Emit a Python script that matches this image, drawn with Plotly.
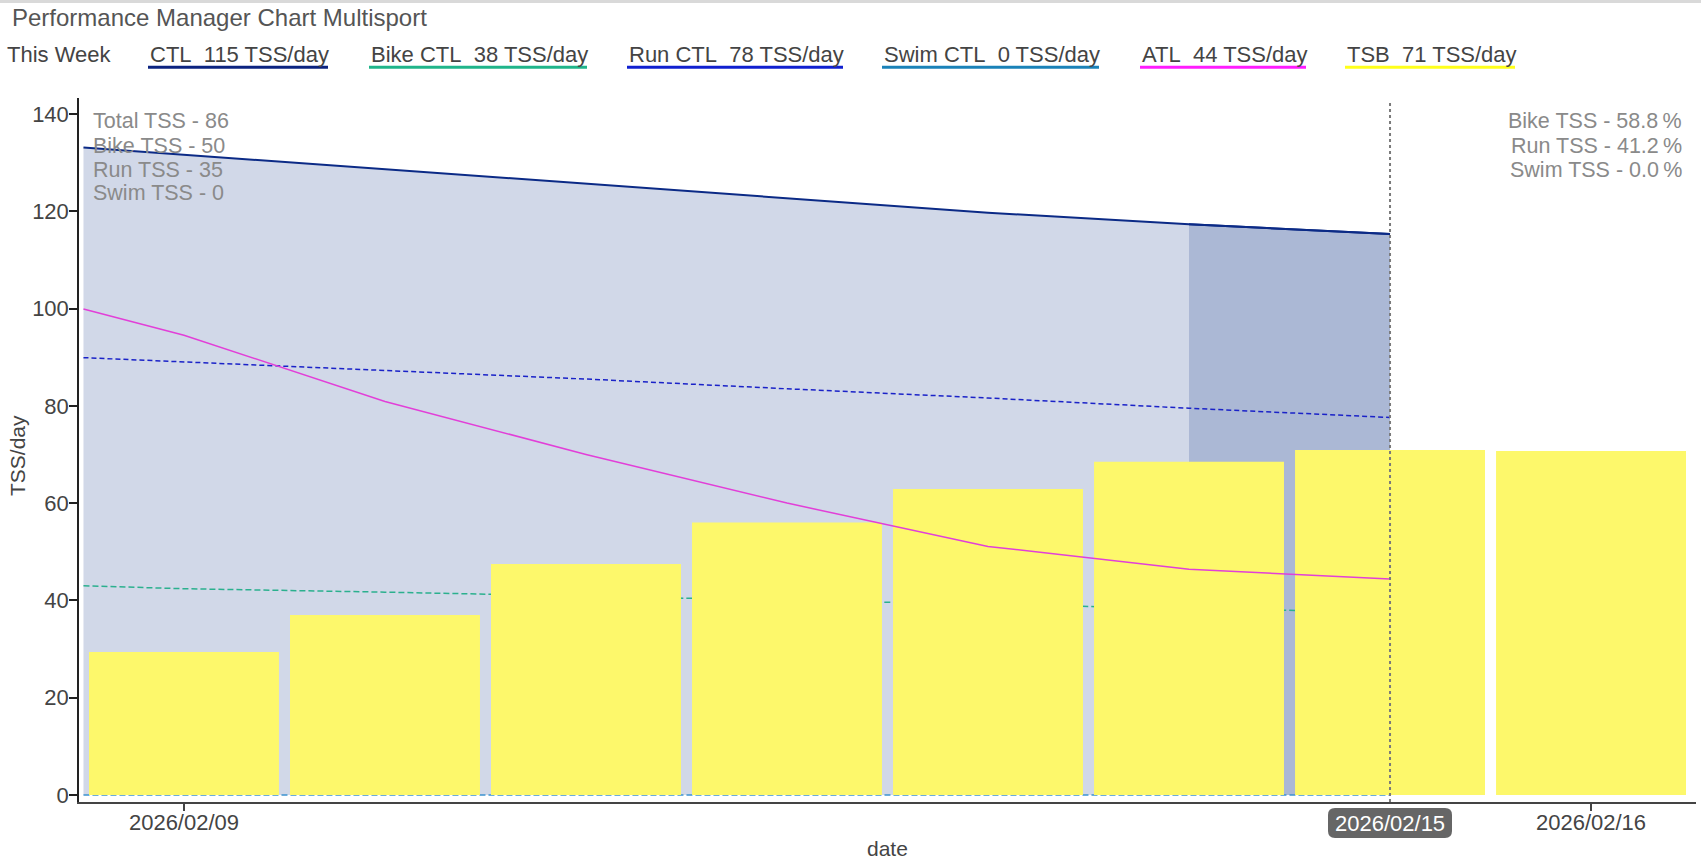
import plotly.graph_objects as go

# ---------------- data ----------------
title_text = "Performance Manager Chart Multisport"

line_dates = ["2026-02-08 12:00", "2026-02-09", "2026-02-10", "2026-02-11",
              "2026-02-12", "2026-02-13", "2026-02-14", "2026-02-15"]
ctl = [133.1, 131.6, 128.7, 125.7, 122.7, 119.7, 117.3, 115.3]
bike_ctl = [43.0, 42.4, 41.7, 40.9, 40.1, 39.2, 38.3, 37.6]
run_ctl = [89.9, 89.0, 87.3, 85.5, 83.5, 81.6, 79.5, 77.6]
swim_ctl = [0, 0, 0, 0, 0, 0, 0, 0]
atl = [99.9, 94.5, 80.9, 70.0, 60.0, 51.1, 46.4, 44.4]

bar_dates = ["2026-02-09", "2026-02-10", "2026-02-11", "2026-02-12",
             "2026-02-13", "2026-02-14", "2026-02-15", "2026-02-16"]
tsb = [29.4, 37.0, 47.5, 56.0, 62.9, 68.5, 70.9, 70.7]

legend_title = "This Week"
legend_labels = ["CTL", "Bike CTL", "Run CTL", "Swim CTL", "ATL", "TSB"]
legend_values = [115, 38, 78, 0, 44, 71]

total_tss = 86
sport_names = ["Bike", "Run", "Swim"]
sport_tss = [50, 35, 0]
sport_pct = [58.8, 41.2, 0.0]

x_tick_vals = ["2026-02-09", "2026-02-16"]
x_tick_text = ["2026/02/09", "2026/02/16"]
hover_date = "2026-02-15"
hover_text = "2026/02/15"
y_tick_vals = [0, 20, 40, 60, 80, 100, 120, 140]

# ---------------- styling / geometry ----------------
FONT = "Liberation Sans, Arial, Helvetica, sans-serif"
W, H = 1701, 860
L, R, T, B = 79, 1696, 98, 802


def px(x):
    return (x - L) / (R - L)


def py(y):
    return (B - y) / (B - T)


c_ctl = "#0b2a86"
c_bike = "#2bb08e"
c_run = "#1a22c8"
c_swim = "#3d93cf"
c_atl = "#e23fd8"
c_tsb = "#fdf86b"
fill_rgba = "rgba(0,40,130,0.18)"
legend_colors = ["#0b2380", "#1fb58a", "#1020d0", "#1a82b8", "#ff1cff", "#ffff1a"]
legend_x = [148, 369, 627, 882, 1140, 1345]
legend_w = [180, 218, 216, 217, 166, 170]

fig = go.Figure()

# CTL filled area (base layer)
fig.add_trace(go.Scatter(x=line_dates, y=ctl, mode="lines", fill="tozeroy",
                         fillcolor=fill_rgba, line=dict(color=c_ctl, width=2),
                         showlegend=False, hoverinfo="skip"))
# last segment highlighted
fig.add_trace(go.Scatter(x=line_dates[-2:], y=ctl[-2:], mode="lines", fill="tozeroy",
                         fillcolor=fill_rgba, line=dict(color=c_ctl, width=2),
                         showlegend=False, hoverinfo="skip"))
fig.add_trace(go.Scatter(x=line_dates, y=bike_ctl, mode="lines",
                         line=dict(color=c_bike, width=1.5, dash="6px,3px"),
                         showlegend=False))
fig.add_trace(go.Scatter(x=line_dates, y=swim_ctl, mode="lines",
                         line=dict(color=c_swim, width=1.5, dash="6px,3px"),
                         showlegend=False))
fig.add_trace(go.Scatter(x=line_dates, y=run_ctl, mode="lines",
                         line=dict(color=c_run, width=1.5, dash="5px,3px"),
                         showlegend=False))

# overlay layer: bars + ATL
fig.add_trace(go.Bar(x=bar_dates, y=tsb, marker=dict(color=c_tsb, line=dict(width=0)),
                     yaxis="y2", showlegend=False))
fig.add_trace(go.Scatter(x=line_dates, y=atl, mode="lines", yaxis="y2",
                         line=dict(color=c_atl, width=1.5), showlegend=False))

y_range = [-1.44, 143.27]
x_range = ["2026-02-08 11:28", "2026-02-16 12:32"]

annotations = []
shapes = []

# legend row
annotations.append(dict(text=legend_title, xref="paper", yref="paper",
                        x=px(5), y=py(54), xanchor="left", yanchor="middle",
                        showarrow=False, font=dict(family=FONT, size=22, color="#444")))
for lab, val, col, lx, lw in zip(legend_labels, legend_values, legend_colors, legend_x, legend_w):
    annotations.append(dict(text=f"{lab}\u00a0 {val} TSS/day", xref="paper", yref="paper",
                            x=px(lx), y=py(54), xanchor="left", yanchor="middle",
                            showarrow=False, font=dict(family=FONT, size=22, color="#444")))
    shapes.append(dict(type="line", xref="paper", yref="paper",
                       x0=px(lx), x1=px(lx + lw), y0=py(67.2), y1=py(67.2),
                       line=dict(color=col, width=3)))

# stats annotations (left)
left_lines = [f"Total TSS - {total_tss}"] + [f"{n} TSS - {v}" for n, v in zip(sport_names, sport_tss)]
for i, t in enumerate(left_lines):
    annotations.append(dict(text=t, xref="paper", yref="paper", x=px(91), y=py(121.5 + 24 * i),
                            xanchor="left", yanchor="middle", showarrow=False,
                            font=dict(family=FONT, size=21.5, color="#8a8a8a")))
# stats annotations (right)
for i, (n, p) in enumerate(zip(sport_names, sport_pct)):
    annotations.append(dict(text=f"{n} TSS - {p:.1f}\u2009%", xref="paper", yref="paper",
                            x=px(1684), y=py(121.5 + 24 * i),
                            xanchor="right", yanchor="middle", align="right", showarrow=False,
                            font=dict(family=FONT, size=21.5, color="#8a8a8a")))

# axis titles
annotations.append(dict(text="TSS/day", xref="paper", yref="paper", x=px(17), y=py(456),
                        textangle=-90, xanchor="center", yanchor="middle", showarrow=False,
                        font=dict(family=FONT, size=21, color="#444")))
annotations.append(dict(text="date", xref="paper", yref="paper", x=0.5, y=py(848),
                        xanchor="center", yanchor="middle", showarrow=False,
                        font=dict(family=FONT, size=21, color="#444")))

# hover-style date label
bx0, bx1, by0, by1, rr = 1328, 1452, 808, 838, 7
rx, ryy = rr / (R - L), rr / (B - T)
path = (f"M {px(bx0)+rx},{py(by0)} L {px(bx1)-rx},{py(by0)} "
        f"Q {px(bx1)},{py(by0)} {px(bx1)},{py(by0)-ryy} "
        f"L {px(bx1)},{py(by1)+ryy} Q {px(bx1)},{py(by1)} {px(bx1)-rx},{py(by1)} "
        f"L {px(bx0)+rx},{py(by1)} Q {px(bx0)},{py(by1)} {px(bx0)},{py(by1)+ryy} "
        f"L {px(bx0)},{py(by0)-ryy} Q {px(bx0)},{py(by0)} {px(bx0)+rx},{py(by0)} Z")
shapes.append(dict(type="path", xref="paper", yref="paper", path=path,
                   fillcolor="#666666", line=dict(width=0), layer="above"))
annotations.append(dict(text=hover_text, xref="x", yref="paper", x=hover_date, y=py(823),
                        xanchor="center", yanchor="middle", showarrow=False,
                        font=dict(family=FONT, size=22, color="white")))

# spike line
shapes.append(dict(type="line", xref="x", yref="paper", x0=hover_date, x1=hover_date,
                   y0=0, y1=py(102), line=dict(color="#7a7a7a", width=2, dash="dot"),
                   layer="above"))
# top page border
shapes.append(dict(type="line", xref="paper", yref="paper", x0=px(0), x1=px(W),
                   y0=py(1.5), y1=py(1.5), line=dict(color="#d9d9d9", width=3)))

fig.update_layout(
    width=W, height=H, autosize=False,
    margin=dict(l=L, r=W - R, t=T, b=H - B, pad=0),
    paper_bgcolor="white", plot_bgcolor="white",
    font=dict(family=FONT, size=21, color="#444"),
    title=dict(text=title_text, xref="container", yref="container",
               x=12 / W, y=1 - 18 / H, xanchor="left", yanchor="middle",
               font=dict(family=FONT, size=24, color="#555")),
    bargap=0.055,
    showlegend=False,
    hovermode=False,
    xaxis=dict(type="date", range=x_range, tickvals=x_tick_vals, ticktext=x_tick_text,
               showgrid=False, zeroline=False, showline=True, linecolor="#444", linewidth=1.5,
               ticks="outside", ticklen=7, tickcolor="#444", tickwidth=1.5,
               ticklabelstandoff=-7,
               tickfont=dict(family=FONT, size=22, color="#444")),
    yaxis=dict(range=y_range, tickvals=y_tick_vals, showgrid=False, zeroline=False,
               showline=True, linecolor="#222", linewidth=1.5,
               ticks="outside", ticklen=8, tickcolor="#222", tickwidth=1.5,
               ticklabelstandoff=-4,
               tickfont=dict(family=FONT, size=22, color="#444")),
    yaxis2=dict(range=y_range, overlaying="y", visible=False, showgrid=False,
                zeroline=False),
    annotations=annotations,
    shapes=shapes,
)

fig.write_html("out.html", config={"displayModeBar": False},
               post_script="document.body.style.margin='0';document.body.style.overflow='hidden';")
